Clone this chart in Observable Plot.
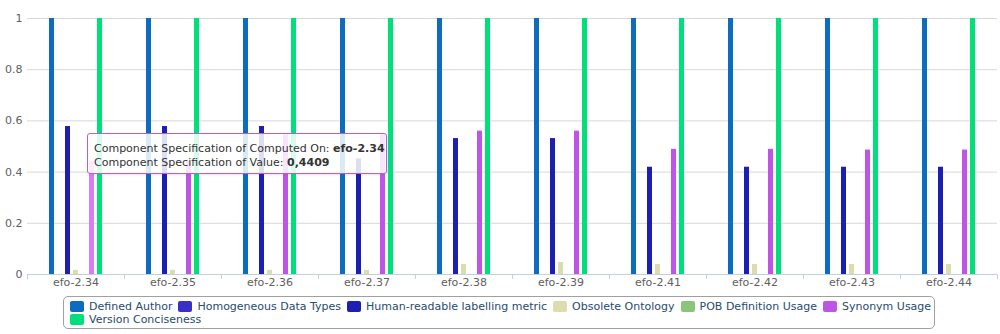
<!DOCTYPE html>
<html>
<head>
<meta charset="utf-8">
<script src="https://cdn.jsdelivr.net/npm/d3@7"></script>
<script src="https://cdn.jsdelivr.net/npm/@observablehq/plot@0.6"></script>
<style>
  html, body { margin: 0; padding: 0; background: #fff; }
  #wrap { position: relative; width: 1000px; height: 334px; overflow: hidden; font-family: "DejaVu Sans", Verdana, sans-serif; }
  #legend { position: absolute; left: 63px; top: 296px; width: 872px; height: 33px; border: 1px solid #a0a0a0; border-radius: 5px; box-sizing: border-box; padding: 3px 0 0 6px; font-size: 11px; color: #274b6d; line-height: 13px; }
  .row { display: flex; flex-wrap: nowrap; white-space: nowrap; }
  .item { display: inline-flex; align-items: center; margin-right: 6px; white-space: nowrap; }
  .sw { display: inline-block; width: 14px; height: 11px; border-radius: 2px; margin-right: 5px; }
  #tip { position: absolute; left: 87px; top: 133px; width: 300px; height: 41px; box-sizing: border-box; border: 1px solid #b35ee6; border-radius: 3px; background: rgba(255,255,255,0.85); font-size: 11px; color: #333; padding: 8px 0 0 6px; line-height: 13.5px; white-space: nowrap; box-shadow: 1px 1px 2px rgba(120,60,160,0.15); }
</style>
</head>
<body>
<div id="wrap">
  <div id="chart"></div>
  <div id="tip"></div>
  <div id="legend"></div>
</div>
<script>
const versions = ["efo-2.34","efo-2.35","efo-2.36","efo-2.37","efo-2.38","efo-2.39","efo-2.41","efo-2.42","efo-2.43","efo-2.44"];
const seriesNames = ["Defined Author","Homogeneous Data Types","Human-readable labelling metric","Obsolete Ontology","POB Definition Usage","Synonym Usage","Version Conciseness"];
const seriesColors = ["#0d6cbf","#3a30c8","#1b1fb3","#dcdcae","#8bc57c","#bf55e6","#00e07a"];
const hoverColor = "#d97cf7";
const legendRows = [6, 1];

const definedAuthor = [1,1,1,1,1,1,1,1,1,1];
const homogeneousDataTypes = [0,0,0,0,0,0,0,0,0,0];
const humanReadable = [0.578,0.578,0.578,0.452,0.531,0.531,0.419,0.419,0.419,0.419];
const obsoleteOntology = [0.016,0.016,0.016,0.016,0.039,0.047,0.039,0.039,0.039,0.039];
const pobDefinitionUsage = [0,0,0,0,0,0,0,0,0,0];
const synonymUsage = [0.4409,0.44,0.546,0.546,0.56,0.56,0.489,0.489,0.486,0.486];
const versionConciseness = [1,1,1,1,1,1,1,1,1,1];

const yTicks = [0,0.2,0.4,0.6,0.8,1];
const yTickLabels = ["0","0.2","0.4","0.6","0.8","1"];

const tooltipLines = [
  ["Component Specification of Computed On: ", "efo-2.34"],
  ["Component Specification of Value: ", "0,4409"]
];
const hovered = {version: "efo-2.34", series: "Synonym Usage"};

const seriesValues = [definedAuthor, homogeneousDataTypes, humanReadable, obsoleteOntology, pobDefinitionUsage, synonymUsage, versionConciseness];
const data = [];
versions.forEach((v, i) => seriesNames.forEach((s, j) => data.push({version: v, series: s, value: seriesValues[j][i]})));
const colorOf = Object.fromEntries(seriesNames.map((s, j) => [s, seriesColors[j]]));

const chart = Plot.plot({
  width: 1000,
  height: 290,
  marginTop: 18,
  marginBottom: 16,
  marginLeft: 27,
  marginRight: 3,
  style: {fontFamily: "DejaVu Sans, Verdana, sans-serif", fontSize: "11px", background: "transparent"},
  fx: {domain: versions, padding: 0, axis: null},
  x: {domain: seriesNames, paddingInner: 0.34, paddingOuter: 2.51, axis: null},
  y: {domain: [0, 1], axis: null},
  marks: [
    Plot.gridY(yTicks, {stroke: "#d8d8d8", strokeOpacity: 1}),
    Plot.axisY(yTicks, {tickSize: 0, tickPadding: 5, tickFormat: (d, i) => yTickLabels[i], fill: "#606060", fontSize: 11, label: null}),
    Plot.barY(data, {fx: "version", x: "series", y: "value",
      fill: d => (d.version === hovered.version && d.series === hovered.series) ? hoverColor : colorOf[d.series]}),
    Plot.ruleY([0], {stroke: "#c0d0e0"}),
    Plot.axisFx({anchor: "bottom", tickSize: 0, tickPadding: 4, fill: "#606060", fontSize: 11, label: null})
  ]
});
document.getElementById("chart").appendChild(chart);

// category boundary ticks, placed with the fx scale
const fx = chart.scale("fx");
const bw = fx.bandwidth;
const svg = d3.select(chart);
const bounds = versions.map(v => fx.apply(v)).concat([fx.apply(versions[versions.length - 1]) + bw]);
svg.append("g").selectAll("line").data(bounds).join("line")
  .attr("x1", d => d + 0.5).attr("x2", d => d + 0.5)
  .attr("y1", 274).attr("y2", 279)
  .attr("stroke", "#c0d0e0");

// tooltip
const tip = document.getElementById("tip");
tooltipLines.forEach(([a, b]) => {
  const div = document.createElement("div");
  div.textContent = a;
  const bEl = document.createElement("b");
  bEl.textContent = b;
  div.appendChild(bEl);
  tip.appendChild(div);
});

// legend
const legend = document.getElementById("legend");
let k = 0;
legendRows.forEach(n => {
  const row = document.createElement("div");
  row.className = "row";
  for (let m = 0; m < n; m++, k++) {
    const it = document.createElement("span");
    it.className = "item";
    const sw = document.createElement("span");
    sw.className = "sw";
    sw.style.background = seriesColors[k];
    it.appendChild(sw);
    it.appendChild(document.createTextNode(seriesNames[k]));
    row.appendChild(it);
  }
  legend.appendChild(row);
});
</script>
</body>
</html>
